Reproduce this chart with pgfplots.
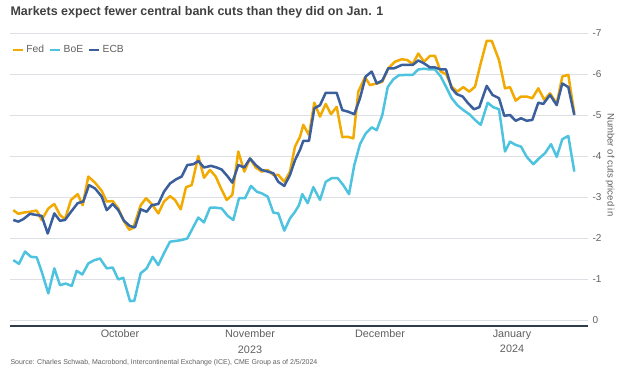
\documentclass[border=0pt]{standalone}
\usepackage{fontspec}
\setmainfont{Liberation Sans}
\usepackage{pgfplots}
\pgfplotsset{compat=1.18}
\definecolor{fed}{RGB}{242,169,0}
\definecolor{boe}{RGB}{78,195,224}
\definecolor{ecb}{RGB}{59,94,156}
\definecolor{gridc}{RGB}{220,224,229}
\definecolor{axisc}{RGB}{47,60,75}
\definecolor{txt}{RGB}{95,95,95}
\definecolor{ttl}{RGB}{64,64,64}
\begin{document}
\begin{tikzpicture}[x=1pt,y=1pt]
\path[use as bounding box] (-10,-49) rectangle (610,326);
\begin{axis}[at={(0,0)}, anchor=south west, scale only axis,
  width=578pt, height=293pt,
  xmin=10, xmax=588, ymin=-7, ymax=0.146, y dir=reverse,
  axis line style={draw=none},
  ytick={-7,-6,-5,-4,-3,-2,-1,0},
  yticklabels={-7,-6,-5,-4,-3,-2,-1,0},
  yticklabel pos=right,
  ymajorgrids, grid style={gridc, line width=0.9pt},
  major tick length=0pt,
  yticklabel style={font=\fontsize{10}{11}\selectfont, text=txt, anchor=west, xshift=1pt},
  xtick={120,250,380,512},
  xticklabels={October,{November\\2023},December,{January\\2024}},
  xticklabel style={align=center, font=\fontsize{10.8}{15.5}\selectfont, text=txt, anchor=north, yshift=-0.5pt},
  extra y ticks={0.146}, extra y tick labels={},
  extra y tick style={grid style={axisc, line width=1.4pt}},
  legend style={at={(axis description cs:0.003,0.942)}, anchor=west, draw=none, fill=none,
    legend columns=3, font=\fontsize{10.3}{12}\selectfont, text=txt, inner sep=0pt,
    /tikz/every even column/.append style={column sep=3pt}},
  legend image code/.code={\draw[#1, line width=2.5pt] (0pt,0pt) -- (10pt,0pt);},
  clip=false,
  every axis plot/.append style={line width=2.5pt, line join=round, mark=none},
]
\addplot[color=fed] coordinates {
(13.3,-2.68) (18.3,-2.59) (23.3,-2.62) (30,-2.64) (36.7,-2.67) (41.7,-2.44) (48.3,-2.72) (54.3,-2.83)
(60,-2.56) (65,-2.46) (71,-2.93) (77.7,-3.07) (82.7,-2.80) (88.3,-3.50) (95,-3.35) (101.7,-3.15)
(106.7,-2.89) (112.7,-2.90) (118.3,-2.72) (123.3,-2.44) (129.3,-2.20) (133.3,-2.25) (140.7,-2.80)
(146,-2.97) (151.7,-2.83) (158.3,-2.60) (164,-2.89) (170,-3.02) (175,-2.93) (180.7,-2.70) (186,-3.24)
(191.7,-3.29) (198.3,-4.00) (204,-3.47) (210,-3.66) (215.7,-3.50) (221,-3.21) (226.7,-2.93) (232.3,-3.05)
(238.3,-4.11) (244.3,-3.62) (250,-3.94) (255.7,-3.72) (261.7,-3.62) (267.7,-3.66) (273.3,-3.54)
(278.3,-3.54) (284.3,-3.37) (290,-3.62) (295,-4.23) (300,-4.47) (303.3,-4.76) (309,-4.51) (314.3,-5.30)
(320,-4.96) (325.7,-5.27) (331,-5.02) (336.7,-5.20) (342.3,-4.46) (347.7,-4.47) (353.3,-4.43)
(358.3,-5.57) (365,-5.92) (370,-5.73) (376.7,-5.77) (382.3,-5.81) (388.3,-6.14) (395,-6.30)
(401.7,-6.36) (407.3,-6.34) (412.7,-6.24) (418.3,-6.50) (424,-6.30) (430,-6.44) (435,-6.44)
(440.7,-6.06) (446,-6.00) (451.7,-5.69) (457.3,-5.57) (463.3,-5.68) (469.3,-5.57) (475,-5.69)
(480.7,-6.26) (486.7,-6.81) (491.7,-6.81) (499,-6.34) (505,-5.65) (510,-5.68) (515.7,-5.35)
(521,-5.45) (526.7,-5.45) (532.3,-5.41) (538.3,-5.65) (544.3,-5.37) (550,-5.53) (556.7,-5.28)
(562.3,-5.94) (568.3,-5.98) (574.3,-5.04)
};
\addlegendentry{Fed}
\addplot[color=boe] coordinates {
(13.3,-1.46) (19,-1.37) (25,-1.67) (31,-1.54) (36.7,-1.53) (41.7,-1.18) (48.3,-0.65) (54.3,-1.26)
(60,-0.85) (65.7,-0.89) (71.7,-0.83) (76.7,-1.20) (82.3,-1.11) (88.3,-1.38) (94.3,-1.46) (100,-1.50)
(106.7,-1.26) (112.7,-1.28) (118.3,-0.99) (123.3,-1.03) (130,-0.46) (134.3,-0.47) (140.7,-1.14)
(146.7,-1.26) (152.7,-1.54) (158.3,-1.34) (164,-1.63) (170,-1.91) (176,-1.93) (181.7,-1.95)
(187.3,-1.99) (192.7,-2.24) (198.3,-2.50) (204,-2.38) (210,-2.74) (215.7,-2.74) (221.7,-2.72)
(227.7,-2.54) (233.3,-2.44) (239,-2.97) (245,-2.97) (251,-3.27) (256.7,-3.13) (261.7,-3.09)
(267.7,-3.01) (273.3,-2.62) (278.3,-2.60) (284.3,-2.18) (290,-2.48) (295,-2.64) (299,-2.80)
(302.3,-3.07) (307.7,-2.85) (313.3,-3.24) (320,-2.93) (325.7,-3.37) (331.7,-3.46) (337.7,-3.46)
(343.3,-3.29) (349,-3.07) (354.3,-3.78) (360,-4.29) (365.7,-4.55) (371.7,-4.70) (376.7,-4.63)
(382.3,-5.00) (387.7,-5.68) (393.3,-5.87) (399,-5.97) (407.3,-5.98) (412.7,-5.98) (418.3,-6.11)
(424,-6.13) (430,-6.11) (435,-6.11) (440.7,-5.94) (446,-5.69) (451.7,-5.41) (457.3,-5.24)
(463.3,-5.12) (469.3,-5.02) (475,-4.88) (480.7,-4.76) (487.7,-5.30) (493.3,-5.19) (499,-5.14)
(505,-4.11) (510,-4.35) (515.7,-4.27) (521,-4.23) (526.7,-3.98) (533.3,-3.80) (539,-3.94)
(545,-4.07) (551,-4.29) (556.7,-3.98) (562.3,-4.41) (568.3,-4.49) (574.3,-3.62)
};
\addlegendentry{BoE}
\addplot[color=ecb] coordinates {
(13.3,-2.44) (18.3,-2.40) (23.3,-2.46) (30,-2.59) (36.7,-2.56) (41.7,-2.54) (47.7,-2.11) (54.3,-2.60)
(60,-2.42) (65,-2.44) (71,-2.64) (77.7,-2.85) (83.3,-2.89) (89,-3.29) (95,-3.21) (101.7,-3.01)
(106.7,-2.68) (112.7,-2.83) (118.3,-2.68) (124,-2.42) (130,-2.29) (135,-2.26) (140.7,-2.70)
(146.7,-2.64) (151.7,-2.80) (158.3,-2.83) (164,-3.13) (170,-3.33) (176,-3.43) (181.7,-3.50)
(187.3,-3.78) (193.3,-3.80) (198.3,-3.88) (204,-3.72) (211,-3.76) (216.7,-3.72) (221.7,-3.67)
(227.7,-3.50) (232.3,-3.35) (238.3,-3.78) (244.3,-3.72) (250,-3.94) (255.7,-3.78) (261.7,-3.66)
(267.7,-3.62) (273.3,-3.58) (278.3,-3.37) (284.3,-3.27) (290,-3.54) (295,-3.90) (300,-4.15)
(303.3,-4.37) (309,-4.37) (314.3,-5.16) (320,-5.24) (325.7,-5.54) (331.7,-5.54) (336.7,-5.54)
(342.3,-5.12) (348.3,-5.08) (354.3,-5.02) (360,-5.41) (365.7,-5.94) (371.7,-6.06) (376.7,-5.77)
(382.3,-5.84) (388.3,-6.14) (394.3,-6.14) (401.7,-6.22) (407.3,-6.22) (412.7,-6.22) (418.3,-6.33)
(424,-6.26) (430,-6.16) (435,-6.16) (440.7,-6.11) (446,-6.11) (451.7,-5.65) (456.7,-5.51)
(462.7,-5.45) (468.3,-5.28) (474,-5.14) (479.3,-5.19) (486.7,-5.71) (492.5,-5.49) (499,-5.41)
(504.3,-4.98) (510,-5.00) (515.7,-4.86) (521,-4.92) (526.7,-4.86) (532.3,-4.88) (538.3,-5.30)
(543.3,-5.27) (550,-5.49) (556.7,-5.24) (562.3,-5.77) (568.3,-5.68) (574.3,-5.00)
};
\addlegendentry{ECB}
\node[rotate=-90, anchor=center, font=\fontsize{9.5}{11}\selectfont, text=txt]
  at (axis description cs:1.038,0.55) {Number of cuts priced in};
\end{axis}
\node[anchor=west, font=\bfseries\fontsize{12.5}{14}\selectfont, text=ttl] at (-3,314) {Markets expect fewer central bank cuts than they did on Jan. 1};
\node[anchor=west, font=\fontsize{7}{8}\selectfont, text=txt] at (-3,-37) {Source: Charles Schwab, Macrobond, Intercontinental Exchange (ICE), CME Group as of 2/5/2024};
\end{tikzpicture}
\end{document}
